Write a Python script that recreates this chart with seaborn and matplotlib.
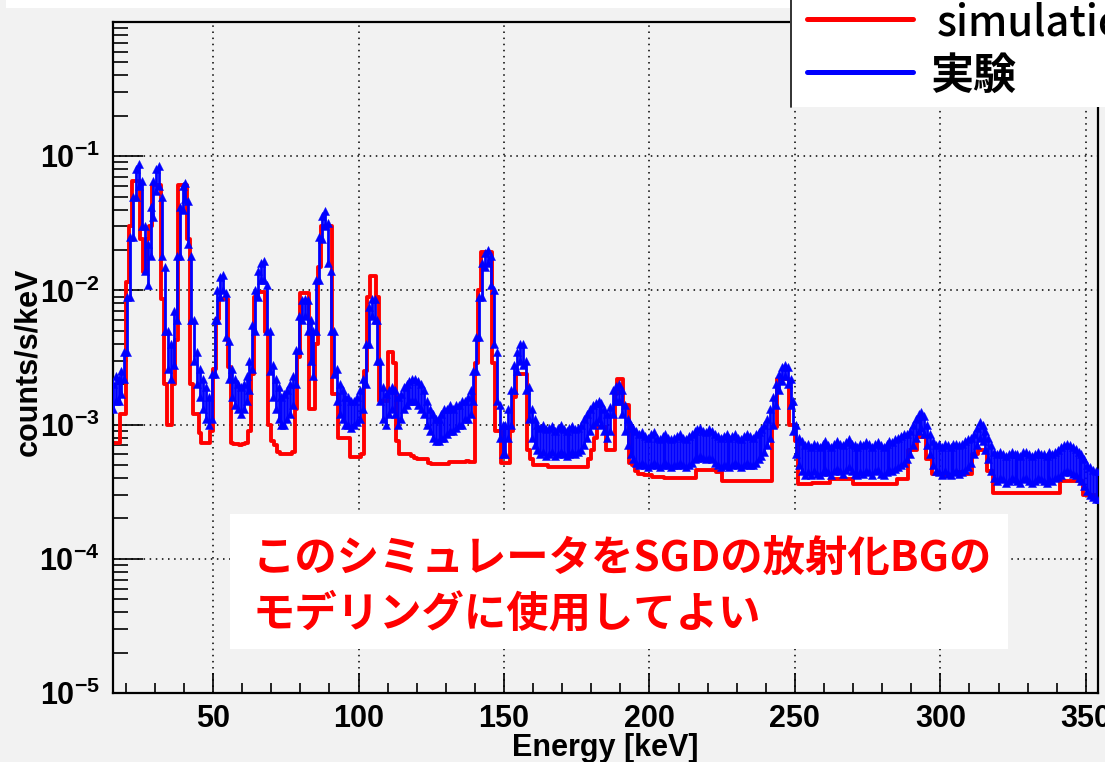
import numpy as np
import pandas as pd
import matplotlib
matplotlib.use("Agg")
import matplotlib.pyplot as plt
from matplotlib.patches import Rectangle
from matplotlib.lines import Line2D
from matplotlib.ticker import MultipleLocator, LogLocator, NullFormatter, FixedLocator, FixedFormatter
import seaborn as sns

# energy bins: 1 keV wide, left edges 15 .. 354 keV
bin_lo = list(range(15, 355))

# simulation histogram (counts/s/keV, in units of 1e-3)
sim_rate = [
    0.73, 0.73, 0.73, 1.2, 1.2, 11.6, 30, 65, 65, 65,            # 15
    24, 13.7, 24, 30, 61, 61, 61, 8.6, 2.0, 1.0,                 # 25
    1.0, 2.0, 4.3, 61, 61, 61, 24, 2.0, 1.2, 1.2,                # 35
    0.86, 0.73, 0.73, 0.73, 0.9, 2.6, 6.1, 8.6, 8.6, 8.6,        # 45
    2.7, 0.73, 0.72, 0.72, 0.7, 0.72, 0.73, 0.9, 2.4, 9.0,       # 55
    9.7, 9.7, 9.7, 4.9, 1.0, 0.75, 0.7, 0.62, 0.6, 0.6,          # 65
    0.6, 0.6, 0.62, 1.3, 3.2, 9.6, 9.6, 9.6, 1.3, 1.3,           # 75
    4.0, 15, 30, 30, 30, 30, 1.7, 1.7, 0.8, 0.8,                 # 85
    0.8, 0.8, 0.57, 0.57, 0.57, 0.57, 0.6, 2.5, 9.0, 12.8,       # 95
    12.8, 9.0, 1.5, 1.5, 1.5, 3.5, 3.5, 2.9, 0.75, 0.6,          # 105
    0.6, 0.6, 0.6, 0.58, 0.56, 0.55, 0.55, 0.55, 0.55, 0.52,     # 115
    0.51, 0.51, 0.51, 0.51, 0.51, 0.51, 0.53, 0.53, 0.53, 0.53,  # 125
    0.53, 0.53, 0.54, 0.53, 0.53, 2.9, 10, 19.4, 19.4, 19.4,     # 135
    19.4, 2.9, 0.9, 0.9, 0.52, 0.52, 0.52, 0.9, 1.6, 2.4,        # 145
    2.4, 2.4, 2.4, 0.65, 0.55, 0.5, 0.5, 0.5, 0.5, 0.5,          # 155
    0.48, 0.48, 0.48, 0.48, 0.48, 0.48, 0.48, 0.48, 0.48, 0.48,  # 165
    0.48, 0.48, 0.48, 0.48, 0.55, 0.65, 0.8, 0.96, 0.96, 0.96,   # 175
    0.65, 0.65, 0.65, 1.7, 2.2, 2.2, 1.4, 1.4, 0.52, 0.5,        # 185
    0.45, 0.43, 0.43, 0.42, 0.42, 0.42, 0.41, 0.41, 0.41, 0.41,  # 195
    0.40, 0.40, 0.40, 0.40, 0.40, 0.40, 0.40, 0.40, 0.40, 0.40,  # 205
    0.40, 0.46, 0.46, 0.46, 0.46, 0.46, 0.46, 0.46, 0.44, 0.44,  # 215
    0.38, 0.38, 0.38, 0.38, 0.38, 0.38, 0.38, 0.38, 0.38, 0.38,  # 225
    0.38, 0.38, 0.38, 0.38, 0.38, 0.38, 0.38, 0.96, 0.96, 2.2,   # 235
    2.2, 2.2, 2.2, 1.0, 1.0, 0.76, 0.36, 0.36, 0.36, 0.36,       # 245
    0.36, 0.37, 0.37, 0.37, 0.37, 0.37, 0.37, 0.39, 0.39, 0.39,  # 255
    0.39, 0.39, 0.39, 0.39, 0.39, 0.36, 0.36, 0.36, 0.36, 0.36,  # 265
    0.36, 0.36, 0.36, 0.36, 0.36, 0.36, 0.36, 0.36, 0.36, 0.36,  # 275
    0.39, 0.39, 0.39, 0.39, 0.65, 0.65, 0.65, 0.81, 0.81, 0.81,  # 285
    0.55, 0.55, 0.43, 0.43, 0.43, 0.43, 0.42, 0.42, 0.42, 0.43,  # 295
    0.43, 0.44, 0.44, 0.43, 0.43, 0.43, 0.6, 0.6, 0.65, 0.65,    # 305
    0.65, 0.45, 0.45, 0.31, 0.31, 0.31, 0.31, 0.31, 0.31, 0.31,  # 315
    0.31, 0.31, 0.31, 0.31, 0.31, 0.31, 0.31, 0.31, 0.31, 0.31,  # 325
    0.31, 0.31, 0.31, 0.31, 0.31, 0.31, 0.38, 0.38, 0.38, 0.38,  # 335
    0.38, 0.38, 0.38, 0.38, 0.3, 0.3, 0.3, 0.3, 0.3, 0.3,        # 345
]

# measurement: lower / upper edge of the point cloud in each 1 keV bin (1e-3)
exp_low = [
    1.3, 1.5, 1.5, 1.7, 2.2, 3.5, 9, 25, 50, 60,                 # 15
    30, 14, 11, 18, 35, 55, 60, 18, 5, 2.6,                      # 25
    2.2, 2.8, 6, 18, 40, 48, 22, 6, 3, 2,                        # 35
    1.6, 1.3, 1.1, 1.0, 1.1, 2.4, 6, 9, 10, 4.5,                 # 45
    2.2, 1.6, 1.4, 1.3, 1.2, 1.3, 1.5, 1.8, 2.6, 5,              # 55
    9, 12, 12, 5, 2.5, 1.6, 1.3, 1.1, 1.0, 1.0,                  # 65
    1.1, 1.2, 1.4, 2.0, 3.6, 6, 6.5, 5, 3, 2.3,                  # 75
    5, 12, 24, 30, 16, 5, 2.4, 1.5, 1.2, 1.1,                    # 85
    1.0, 1.0, 0.95, 1.0, 1.05, 1.1, 1.3, 2.0, 4.0, 6.5,          # 95
    6, 3, 1.5, 1.1, 1.0, 1.2, 1.3, 1.2, 1.0, 1.1,                # 105
    1.3, 1.4, 1.5, 1.5, 1.5, 1.4, 1.3, 1.2, 1.0, 0.9,            # 115
    0.8, 0.75, 0.75, 0.8, 0.8, 0.85, 0.9, 0.9, 0.95, 1.0,        # 125
    1.0, 1.1, 1.1, 1.2, 1.5, 2.5, 4.5, 9, 15, 16,                # 135
    11, 4, 1.5, 0.8, 0.6, 0.6, 0.8, 1.0, 1.8, 2.5,               # 145
    3.0, 2.8, 1.8, 1.1, 0.8, 0.7, 0.65, 0.6, 0.62, 0.58,         # 155
    0.6, 0.62, 0.58, 0.6, 0.62, 0.6, 0.58, 0.6, 0.62, 0.6,       # 165
    0.62, 0.65, 0.7, 0.8, 0.9, 1.0, 1.05, 1.1, 1.0, 0.9,         # 175
    0.8, 0.9, 1.2, 1.5, 1.5, 1.2, 0.9, 0.7, 0.6, 0.55,           # 185
    0.52, 0.5, 0.52, 0.5, 0.48, 0.5, 0.52, 0.5, 0.48, 0.5,       # 195
    0.52, 0.5, 0.48, 0.5, 0.5, 0.52, 0.5, 0.48, 0.5, 0.52,       # 205
    0.55, 0.56, 0.58, 0.56, 0.55, 0.56, 0.55, 0.52, 0.5, 0.48,   # 215
    0.5, 0.5, 0.48, 0.5, 0.52, 0.5, 0.48, 0.5, 0.52, 0.5,        # 225
    0.5, 0.52, 0.55, 0.58, 0.62, 0.7, 0.8, 1.0, 1.4, 1.8,        # 235
    2.1, 2.3, 2.0, 1.4, 0.9, 0.6, 0.5, 0.45, 0.42, 0.44,         # 245
    0.42, 0.45, 0.43, 0.42, 0.44, 0.46, 0.44, 0.42, 0.45, 0.47,  # 255
    0.45, 0.43, 0.46, 0.48, 0.45, 0.43, 0.42, 0.44, 0.43, 0.45,  # 265
    0.44, 0.42, 0.45, 0.46, 0.43, 0.42, 0.44, 0.46, 0.45, 0.47,  # 275
    0.48, 0.5, 0.52, 0.55, 0.6, 0.7, 0.8, 0.9, 0.95, 0.85,       # 285
    0.7, 0.6, 0.5, 0.45, 0.44, 0.42, 0.45, 0.43, 0.42, 0.44,     # 295
    0.45, 0.43, 0.44, 0.46, 0.48, 0.52, 0.6, 0.7, 0.8, 0.75,     # 305
    0.65, 0.55, 0.45, 0.4, 0.38, 0.4, 0.39, 0.37, 0.38, 0.4,     # 315
    0.39, 0.38, 0.37, 0.39, 0.4, 0.38, 0.37, 0.38, 0.4, 0.39,    # 325
    0.38, 0.37, 0.39, 0.38, 0.4, 0.41, 0.42, 0.44, 0.45, 0.44,   # 335
    0.43, 0.42, 0.4, 0.38, 0.35, 0.32, 0.3, 0.29, 0.28, 0.28,    # 345
]

exp_high = [
    2.0, 2.3, 2.2, 2.5, 3.5, 9, 25, 50, 80, 88,                  # 15
    65, 30, 22, 42, 65, 80, 84, 50, 15, 5,                       # 25
    4, 7, 18, 42, 60, 63, 46, 18, 6, 3.5,                        # 35
    2.6, 2.2, 1.9, 1.6, 2.4, 6, 10, 12.5, 13, 9.5,               # 45
    4.2, 2.6, 2.2, 2.0, 1.9, 2.0, 2.3, 3, 5.5, 10,               # 55
    14, 16, 16.5, 11, 5, 2.8, 2.2, 1.9, 1.6, 1.7,                # 65
    1.8, 2.0, 2.3, 3.6, 6.5, 8.5, 8.6, 8.5, 6, 5,                # 75
    12, 25, 36, 39, 32, 14, 5, 2.6, 2.0, 1.8,                    # 85
    1.6, 1.6, 1.5, 1.5, 1.6, 1.8, 2.2, 4.0, 7.5, 8.6,            # 95
    8.6, 6, 3, 1.9, 1.7, 1.8, 1.9, 1.8, 1.6, 1.7,                # 105
    1.9, 2.0, 2.1, 2.2, 2.2, 2.1, 2.0, 1.8, 1.5, 1.3,            # 115
    1.2, 1.1, 1.1, 1.2, 1.3, 1.3, 1.4, 1.3, 1.4, 1.4,            # 125
    1.5, 1.5, 1.6, 1.8, 2.5, 4.5, 9, 16, 19, 20,                 # 135
    18, 10, 3.5, 1.4, 1.0, 1.0, 1.3, 1.8, 2.8, 3.5,              # 145
    4.0, 4.0, 3.0, 1.9, 1.3, 1.1, 1.0, 0.95, 1.0, 0.92,          # 155
    0.95, 0.98, 0.9, 0.95, 1.0, 0.92, 0.9, 0.95, 0.98, 0.93,     # 165
    0.95, 1.0, 1.1, 1.2, 1.3, 1.4, 1.45, 1.5, 1.45, 1.3,         # 175
    1.2, 1.35, 1.8, 1.95, 2.0, 1.8, 1.4, 1.1, 1.0, 0.95,         # 185
    0.9, 0.85, 0.88, 0.82, 0.8, 0.85, 0.88, 0.8, 0.78, 0.82,     # 195
    0.85, 0.8, 0.78, 0.8, 0.82, 0.85, 0.8, 0.78, 0.82, 0.85,     # 205
    0.9, 0.92, 0.95, 0.9, 0.88, 0.92, 0.9, 0.85, 0.82, 0.8,      # 215
    0.82, 0.85, 0.8, 0.82, 0.85, 0.8, 0.78, 0.82, 0.85, 0.82,    # 225
    0.8, 0.85, 0.88, 0.92, 1.0, 1.1, 1.3, 1.6, 2.0, 2.4,         # 235
    2.7, 2.8, 2.7, 2.2, 1.5, 1.0, 0.8, 0.75, 0.7, 0.72,          # 245
    0.68, 0.72, 0.7, 0.68, 0.72, 0.75, 0.7, 0.68, 0.72, 0.76,    # 255
    0.72, 0.7, 0.74, 0.78, 0.72, 0.7, 0.68, 0.72, 0.7, 0.74,     # 265
    0.72, 0.68, 0.72, 0.74, 0.7, 0.68, 0.72, 0.75, 0.74, 0.78,   # 275
    0.8, 0.82, 0.85, 0.85, 0.9, 1.0, 1.1, 1.2, 1.25, 1.15,       # 285
    1.0, 0.85, 0.75, 0.7, 0.72, 0.68, 0.72, 0.7, 0.68, 0.72,     # 295
    0.72, 0.7, 0.72, 0.75, 0.78, 0.8, 0.85, 0.95, 1.05, 1.0,     # 305
    0.9, 0.8, 0.7, 0.62, 0.6, 0.62, 0.6, 0.58, 0.6, 0.62,        # 315
    0.6, 0.6, 0.58, 0.62, 0.63, 0.6, 0.58, 0.6, 0.62, 0.6,       # 325
    0.6, 0.58, 0.62, 0.6, 0.63, 0.65, 0.68, 0.7, 0.72, 0.7,      # 335
    0.68, 0.66, 0.62, 0.6, 0.55, 0.5, 0.48, 0.46, 0.45, 0.45,    # 345
]

y_decades = [1e-5, 1e-4, 1e-3, 1e-2, 1e-1]
y_decade_labels = [r"$10^{-5}$", r"$10^{-4}$", r"$10^{-3}$", r"$10^{-2}$", r"$10^{-1}$"]
note_lines = ["このシミュレータをSGDの放射化BGの", "モデリングに使用してよい"]
legend_labels = ["simulation", "実験"]

# ---- tables -------------------------------------------------------------
edges = bin_lo + [bin_lo[-1] + 1]
sim_df = pd.DataFrame({"energy": edges,
                       "rate": np.array(sim_rate + [sim_rate[-1]]) * 1e-3})
centers = np.array(bin_lo) + 0.5
exp_df = pd.DataFrame({"energy": np.concatenate([centers, centers]),
                       "rate": np.concatenate([exp_low, exp_high]) * 1e-3})

# ---- style ----------------------------------------------------------------
sns.set_style("ticks")
plt.rcParams["font.family"] = ["Liberation Sans", "DejaVu Sans"]
plt.rcParams["text.color"] = "black"
plt.rcParams["axes.labelcolor"] = "black"
plt.rcParams["xtick.color"] = "black"
plt.rcParams["ytick.color"] = "black"
plt.rcParams["mathtext.fontset"] = "custom"
plt.rcParams["mathtext.rm"] = "Liberation Sans:bold"
plt.rcParams["mathtext.it"] = "Liberation Sans:bold"
plt.rcParams["mathtext.bf"] = "Liberation Sans:bold"
plt.rcParams["mathtext.default"] = "rm"

W, H = 1105, 762
BG = "#f2f2f2"
fig = plt.figure(figsize=(W / 100, H / 100), dpi=100, facecolor=BG)
ax = fig.add_axes([113 / W, 1 - 693 / H, 985 / W, 671 / H])
ax.set_facecolor(BG)

# simulation as histogram outline
sns.lineplot(data=sim_df, x="energy", y="rate", drawstyle="steps-post",
             estimator=None, sort=False, color="red", linewidth=2.8,
             ax=ax, legend=False, zorder=2)

# measurement cloud
ax.vlines(centers, np.array(exp_low) * 1e-3, np.array(exp_high) * 1e-3,
          color="blue", linewidth=2.0, zorder=3)
sns.scatterplot(data=exp_df, x="energy", y="rate", marker="^", s=34,
                color="blue", edgecolor="blue", linewidth=0.3,
                ax=ax, legend=False, zorder=4)

ax.set_yscale("log")
ax.set_xlim(15.6, 354.2)
ax.set_ylim(1e-5, 1)

ax.xaxis.set_major_locator(MultipleLocator(50))
ax.xaxis.set_minor_locator(MultipleLocator(10))
ax.yaxis.set_major_locator(FixedLocator(y_decades))
ax.yaxis.set_major_formatter(FixedFormatter(y_decade_labels))
ax.yaxis.set_minor_locator(LogLocator(base=10, subs=range(2, 10), numticks=20))
ax.yaxis.set_minor_formatter(NullFormatter())

ax.tick_params(axis="both", which="both", direction="in", top=False, right=False,
               colors="black", labelcolor="black", width=1.2)
ax.tick_params(axis="y", which="major", length=21.6, pad=9.4, labelsize=22)
ax.tick_params(axis="y", which="minor", length=10.8)
ax.tick_params(axis="x", which="major", length=14.4, pad=8, labelsize=22)
ax.tick_params(axis="x", which="minor", length=7.2)
for lab in ax.get_xticklabels():
    lab.set_fontweight("bold")

ax.grid(which="major", color="black", linestyle=(0, (1, 3)), linewidth=1.1)
for side in ["left", "bottom", "top", "right"]:
    ax.spines[side].set_color("black")
    ax.spines[side].set_linewidth(1.6)

ax.set_xlabel("Energy [keV]", fontsize=22, fontweight="bold", color="black")
ax.set_ylabel("counts/s/keV", fontsize=22, fontweight="bold", color="black")
ax.xaxis.label.set(va="center", ha="center")
ax.yaxis.label.set(va="center", ha="center", rotation_mode="anchor")
ax.xaxis.set_label_coords(0.5, (693 - 748) / 671)
ax.yaxis.set_label_coords((28 - 113) / 985, (693 - 362) / 671)


def fx(px):
    return px / W


def fy(py):
    return 1 - py / H


# slide overlays
fig.add_artist(Rectangle((fx(6), fy(7.5)), fx(790) - fx(6), 7.5 / H,
                         transform=fig.transFigure, facecolor="white",
                         edgecolor="none", zorder=5))
fig.add_artist(Rectangle((fx(790), fy(107)), fx(W) - fx(790), 107 / H,
                         transform=fig.transFigure, facecolor="white",
                         edgecolor="none", zorder=5))
fig.add_artist(Line2D([fx(791), fx(791)], [fy(0), fy(107)], transform=fig.transFigure,
                      color="#222222", linewidth=1.3, zorder=6))
fig.add_artist(Line2D([fx(807), fx(913)], [fy(19), fy(19)], transform=fig.transFigure,
                      color="red", linewidth=3.6, zorder=6))
fig.add_artist(Line2D([fx(807), fx(913)], [fy(72), fy(72)], transform=fig.transFigure,
                      color="blue", linewidth=3.6, zorder=6))
cjk = ["Noto Sans CJK JP", "DejaVu Sans"]
fig.text(fx(937), fy(35), legend_labels[0], family=cjk, fontsize=30,
         fontweight="medium", ha="left", va="baseline", color="black", zorder=7)
fig.text(fx(930), fy(76), legend_labels[1], family=cjk, fontsize=31,
         fontweight="bold", ha="left", va="center", color="black", zorder=7)

fig.add_artist(Rectangle((fx(230), fy(649)), fx(1008) - fx(230), (649 - 514) / H,
                         transform=fig.transFigure, facecolor="white",
                         edgecolor="none", zorder=5))
fig.text(fx(253), fy(559), note_lines[0], family=cjk, fontsize=30.5,
         fontweight="bold", color="#ff0000", ha="left", va="center", zorder=7)
fig.text(fx(253), fy(615), note_lines[1], family=cjk, fontsize=30.5,
         fontweight="bold", color="#ff0000", ha="left", va="center", zorder=7)

fig.savefig("out.png", dpi=100, facecolor=BG)
